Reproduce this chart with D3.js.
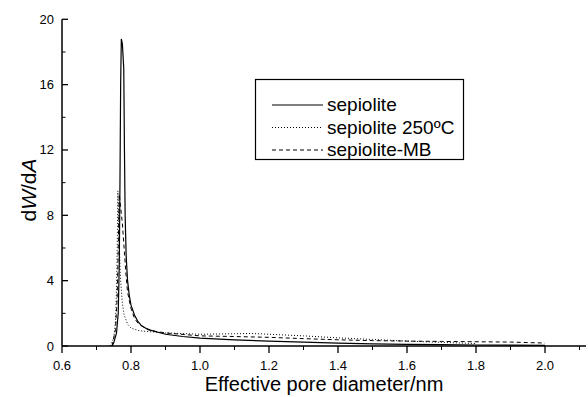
<!DOCTYPE html>
<html><head><meta charset="utf-8">
<script src="https://cdn.jsdelivr.net/npm/d3@7"></script>
<style>body{margin:0;background:#fff}svg{display:block}text{font-family:"Liberation Sans",Arial,sans-serif;fill:#000}</style>
</head><body><svg id="c" width="588" height="397"></svg>
<script>
const xTicks=[0.6,0.8,1.0,1.2,1.4,1.6,1.8,2.0];
const yTicks=[0,4,8,12,16,20];
const seriesNames=["sepiolite","sepiolite 250ºC","sepiolite-MB"];
const sepiolite=[[0.745,0],[0.75,0.2],[0.758,0.8],[0.763,2],[0.766,5],[0.768,10],[0.770,16],[0.772,18.8],[0.775,18.5],[0.779,17],[0.781,12],[0.783,8],[0.786,5.5],[0.79,4],[0.795,3.1],[0.80,2.5],[0.81,1.9],[0.82,1.5],[0.83,1.25],[0.85,1.0],[0.9,0.72],[0.95,0.58],[1.0,0.48],[1.1,0.38],[1.2,0.3],[1.3,0.24],[1.4,0.17],[1.5,0.13],[1.6,0.1],[1.7,0.08],[1.8,0.06],[1.9,0.05],[2.0,0.04]];
const sepiolite250=[[0.74,0],[0.75,0.5],[0.755,1.5],[0.758,3.5],[0.760,6],[0.762,9.5],[0.765,7],[0.768,5],[0.77,4],[0.775,2.6],[0.78,1.9],[0.79,1.35],[0.80,1.1],[0.82,0.95],[0.85,0.88],[0.9,0.8],[1.0,0.72],[1.1,0.75],[1.15,0.77],[1.2,0.72],[1.3,0.62],[1.4,0.5],[1.5,0.4],[1.6,0.3],[1.7,0.22],[1.8,0.15]];
const sepioliteMB=[[0.745,0],[0.755,1],[0.76,3],[0.763,6],[0.766,9.3],[0.77,8.5],[0.775,7.5],[0.78,6],[0.785,4.5],[0.79,3.3],[0.80,2.3],[0.81,1.7],[0.82,1.4],[0.84,1.1],[0.87,0.9],[0.9,0.8],[1.0,0.62],[1.1,0.58],[1.2,0.53],[1.3,0.45],[1.4,0.38],[1.5,0.33],[1.6,0.3],[1.7,0.28],[1.8,0.26],[1.9,0.24],[2.0,0.18]];
const seriesData=[sepiolite,sepiolite250,sepioliteMB];
const dashes=[null,"1,2","4,3"];

const svg=d3.select("#c");
const x=d3.scaleLinear().domain([0.6,2.0]).range([62,545]);
const y=d3.scaleLinear().domain([0,20]).range([346,19.3]);

const gx=svg.append("g").attr("transform","translate(0,346)");
gx.append("line").attr("x1",x(0.6)).attr("x2",586).attr("stroke","#000").attr("stroke-width",1.5);
gx.selectAll(".maj").data(xTicks).join("line").attr("class","maj").attr("x1",d=>x(d)).attr("x2",d=>x(d)).attr("y1",0).attr("y2",7).attr("stroke","#000").attr("stroke-width",1.3);
gx.selectAll(".min").data(d3.range(0.7,2.11,0.2)).join("line").attr("class","min").attr("x1",d=>x(d)).attr("x2",d=>x(d)).attr("y1",0).attr("y2",4).attr("stroke","#000");
gx.selectAll("text").data(xTicks).join("text").attr("x",d=>x(d)).attr("y",24).attr("text-anchor","middle").attr("font-size",13).text(d=>d3.format(".1f")(d));

const gy=svg.append("g").attr("transform","translate(62,0)");
gy.append("line").attr("y1",y(0)).attr("y2",y(20)).attr("stroke","#000").attr("stroke-width",1.5);
gy.selectAll(".maj").data(yTicks).join("line").attr("class","maj").attr("x1",0).attr("x2",6).attr("y1",d=>y(d)).attr("y2",d=>y(d)).attr("stroke","#000").attr("stroke-width",1.3);
gy.selectAll(".min").data(d3.range(2,20,4)).join("line").attr("class","min").attr("x1",0).attr("x2",3.5).attr("y1",d=>y(d)).attr("y2",d=>y(d)).attr("stroke","#000");
gy.selectAll("text").data(yTicks).join("text").attr("x",-8).attr("y",d=>y(d)+4.5).attr("text-anchor","end").attr("font-size",13).text(d=>d);

svg.append("text").attr("x",324).attr("y",391).attr("text-anchor","middle").attr("font-size",20).text("Effective pore diameter/nm");
const yl=svg.append("text").attr("transform","translate(36,190) rotate(-90)").attr("text-anchor","middle").attr("font-size",21);
yl.append("tspan").text("d");yl.append("tspan").attr("font-style","italic").text("W");
yl.append("tspan").text("/d");yl.append("tspan").attr("font-style","italic").text("A");

const line=d3.line().x(d=>x(d[0])).y(d=>y(d[1]));
seriesData.forEach((s,i)=>{
  svg.append("path").attr("d",line(s)).attr("fill","none").attr("stroke","#000")
    .attr("stroke-width",i===0?1.2:1).attr("stroke-dasharray",dashes[i]);
});

svg.append("rect").attr("x",255.5).attr("y",79.5).attr("width",208).attr("height",80).attr("fill","#fff").attr("stroke","#000").attr("stroke-width",1.2);
seriesNames.forEach((n,i)=>{
  const yy=105+i*22.5;
  svg.append("line").attr("x1",272).attr("x2",323).attr("y1",yy).attr("y2",yy).attr("stroke","#000").attr("stroke-width",i===0?1.2:1).attr("stroke-dasharray",dashes[i]);
  svg.append("text").attr("x",327).attr("y",yy+6).attr("font-size",19).text(n);
});
</script></body></html>
